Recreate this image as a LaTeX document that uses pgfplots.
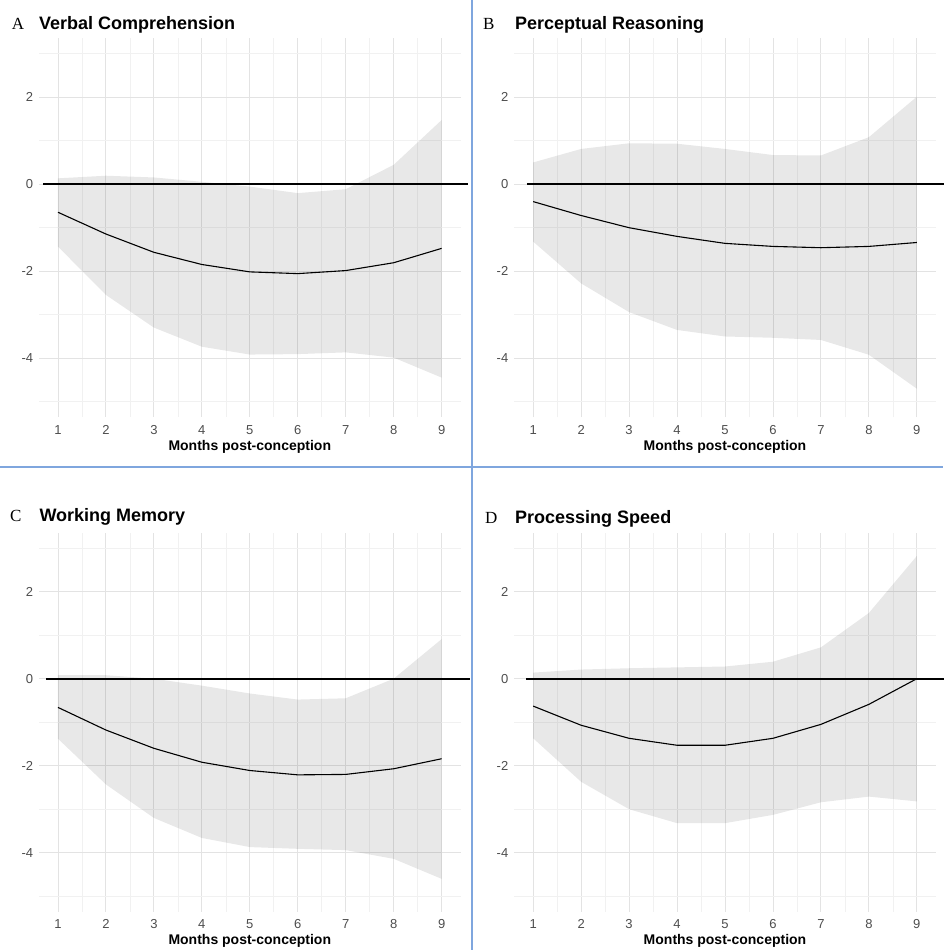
\documentclass[border=0pt]{standalone}
\usepackage{fontspec}
\setmainfont{Liberation Sans}
\newfontfamily\seriffont{Liberation Serif}
\usepackage{pgfplots}
\usepackage{pgfplotstable}
\pgfplotsset{compat=1.18}

\definecolor{gridmaj}{HTML}{E3E3E3}
\definecolor{gridmin}{HTML}{F1F1F1}
\definecolor{ticklab}{HTML}{4D4D4D}
\definecolor{sepblue}{HTML}{7FA6DE}

% mean estimate
\pgfplotstableread{
x y
1 -0.65
2 -1.15
3 -1.57
4 -1.85
5 -2.02
6 -2.06
7 -1.99
8 -1.81
9 -1.48
}\midA
% confidence band: upper bound 1..9, then lower bound 9..1
\pgfplotstableread{
x y
1 0.13
2 0.19
3 0.15
4 0.05
5 -0.06
6 -0.21
7 -0.12
8 0.44
9 1.47
9 -4.45
8 -3.99
7 -3.87
6 -3.91
5 -3.92
4 -3.74
3 -3.30
2 -2.55
1 -1.44
}\bandA

\pgfplotstableread{
x y
1 -0.40
2 -0.72
3 -1.00
4 -1.20
5 -1.36
6 -1.43
7 -1.46
8 -1.43
9 -1.34
}\midB
\pgfplotstableread{
x y
1 0.50
2 0.81
3 0.94
4 0.93
5 0.81
6 0.67
7 0.66
8 1.08
9 2.01
9 -4.70
8 -3.92
7 -3.58
6 -3.53
5 -3.50
4 -3.35
3 -2.94
2 -2.28
1 -1.32
}\bandB

\pgfplotstableread{
x y
1 -0.66
2 -1.18
3 -1.60
4 -1.92
5 -2.11
6 -2.21
7 -2.20
8 -2.07
9 -1.84
}\midC
\pgfplotstableread{
x y
1 0.08
2 0.08
3 0.00
4 -0.16
5 -0.34
6 -0.48
7 -0.45
8 0.00
9 0.91
9 -4.60
8 -4.14
7 -3.94
6 -3.91
5 -3.87
4 -3.66
3 -3.20
2 -2.43
1 -1.38
}\bandC

\pgfplotstableread{
x y
1 -0.63
2 -1.07
3 -1.37
4 -1.53
5 -1.53
6 -1.37
7 -1.05
8 -0.59
9 0.00
}\midD
\pgfplotstableread{
x y
1 0.14
2 0.21
3 0.24
4 0.26
5 0.28
6 0.39
7 0.72
8 1.51
9 2.82
9 -2.82
8 -2.71
7 -2.84
6 -3.13
5 -3.32
4 -3.32
3 -3.00
2 -2.37
1 -1.37
}\bandD

\pgfplotsset{panel/.style={
  scale only axis, width=422pt, height=379.4pt,
  xmin=0.6, xmax=9.4, ymin=-5.36, ymax=3.36,
  xtick={1,2,3,4,5,6,7,8,9}, xticklabels={1,2,3,4,5,6,7,8,9},
  minor xtick={1.5,2.5,3.5,4.5,5.5,6.5,7.5,8.5},
  ytick={-4,-2,0,2}, yticklabels={-4,-2,0,2},
  minor ytick={-5,-3,-1,1,3},
  grid=both,
  major grid style={draw=gridmaj, line width=0.9pt},
  minor grid style={draw=gridmin, line width=0.6pt},
  axis line style={draw=none},
  major tick length=0pt, minor tick length=0pt,
  tick style={draw=none},
  ticklabel style={font=\fontsize{13}{15}\selectfont, text=ticklab},
  xticklabel style={anchor=base, inner sep=0pt, yshift=-17pt},
  yticklabel style={anchor=east, inner sep=0pt, xshift=-5.5pt},
  xlabel={Months post-conception},
  xlabel style={at={(axis description cs:0.5,0)}, anchor=base, inner sep=0pt, yshift=-33pt, font=\bfseries\fontsize{14}{16}\selectfont},
  clip=false,
}}

\begin{document}
\begin{tikzpicture}
\useasboundingbox (0,0) rectangle (943pt,-950pt);

\begin{axis}[panel, at={(38.8pt,-37.8pt)}, anchor=north west]
\addplot[fill=black, fill opacity=0.09, draw=none] table {\bandA} -- cycle;
\addplot[black, line width=1.8pt] coordinates {(0.69,0) (9.54,0)};
\addplot[black, line width=1.1pt] table {\midA};
\end{axis}
\begin{axis}[panel, at={(514pt,-38pt)}, anchor=north west]
\addplot[fill=black, fill opacity=0.09, draw=none] table {\bandB} -- cycle;
\addplot[black, line width=1.8pt] coordinates {(0.87,0) (9.6,0)};
\addplot[black, line width=1.1pt] table {\midB};
\end{axis}
\begin{axis}[panel, at={(38.8pt,-532.5pt)}, anchor=north west]
\addplot[fill=black, fill opacity=0.09, draw=none] table {\bandC} -- cycle;
\addplot[black, line width=1.8pt] coordinates {(0.76,0) (9.6,0)};
\addplot[black, line width=1.1pt] table {\midC};
\end{axis}
\begin{axis}[panel, at={(514pt,-532.5pt)}, anchor=north west]
\addplot[fill=black, fill opacity=0.09, draw=none] table {\bandD} -- cycle;
\addplot[black, line width=1.8pt] coordinates {(0.86,0) (9.6,0)};
\addplot[black, line width=1.1pt] table {\midD};
\end{axis}

\node[anchor=base west, inner sep=0pt, font=\seriffont\fontsize{17}{17}\selectfont] at (11.7pt,-29.3pt) {A};
\node[anchor=base west, inner sep=0pt, font=\bfseries\fontsize{18}{20}\selectfont] at (39pt,-29.3pt) {Verbal Comprehension};
\node[anchor=base west, inner sep=0pt, font=\seriffont\fontsize{17}{17}\selectfont] at (483pt,-29.3pt) {B};
\node[anchor=base west, inner sep=0pt, font=\bfseries\fontsize{18}{20}\selectfont] at (515pt,-29.3pt) {Perceptual Reasoning};
\node[anchor=base west, inner sep=0pt, font=\seriffont\fontsize{17}{17}\selectfont] at (10pt,-521.7pt) {C};
\node[anchor=base west, inner sep=0pt, font=\bfseries\fontsize{18}{20}\selectfont] at (39.3pt,-521.7pt) {Working Memory};
\node[anchor=base west, inner sep=0pt, font=\seriffont\fontsize{17}{17}\selectfont] at (485pt,-523.3pt) {D};
\node[anchor=base west, inner sep=0pt, font=\bfseries\fontsize{18}{20}\selectfont] at (515pt,-523.3pt) {Processing Speed};

\draw[sepblue, line width=1.5pt] (472pt,0) -- (472pt,-950pt);
\draw[sepblue, line width=1.5pt] (0,-467pt) -- (943pt,-467pt);
\end{tikzpicture}
\end{document}
